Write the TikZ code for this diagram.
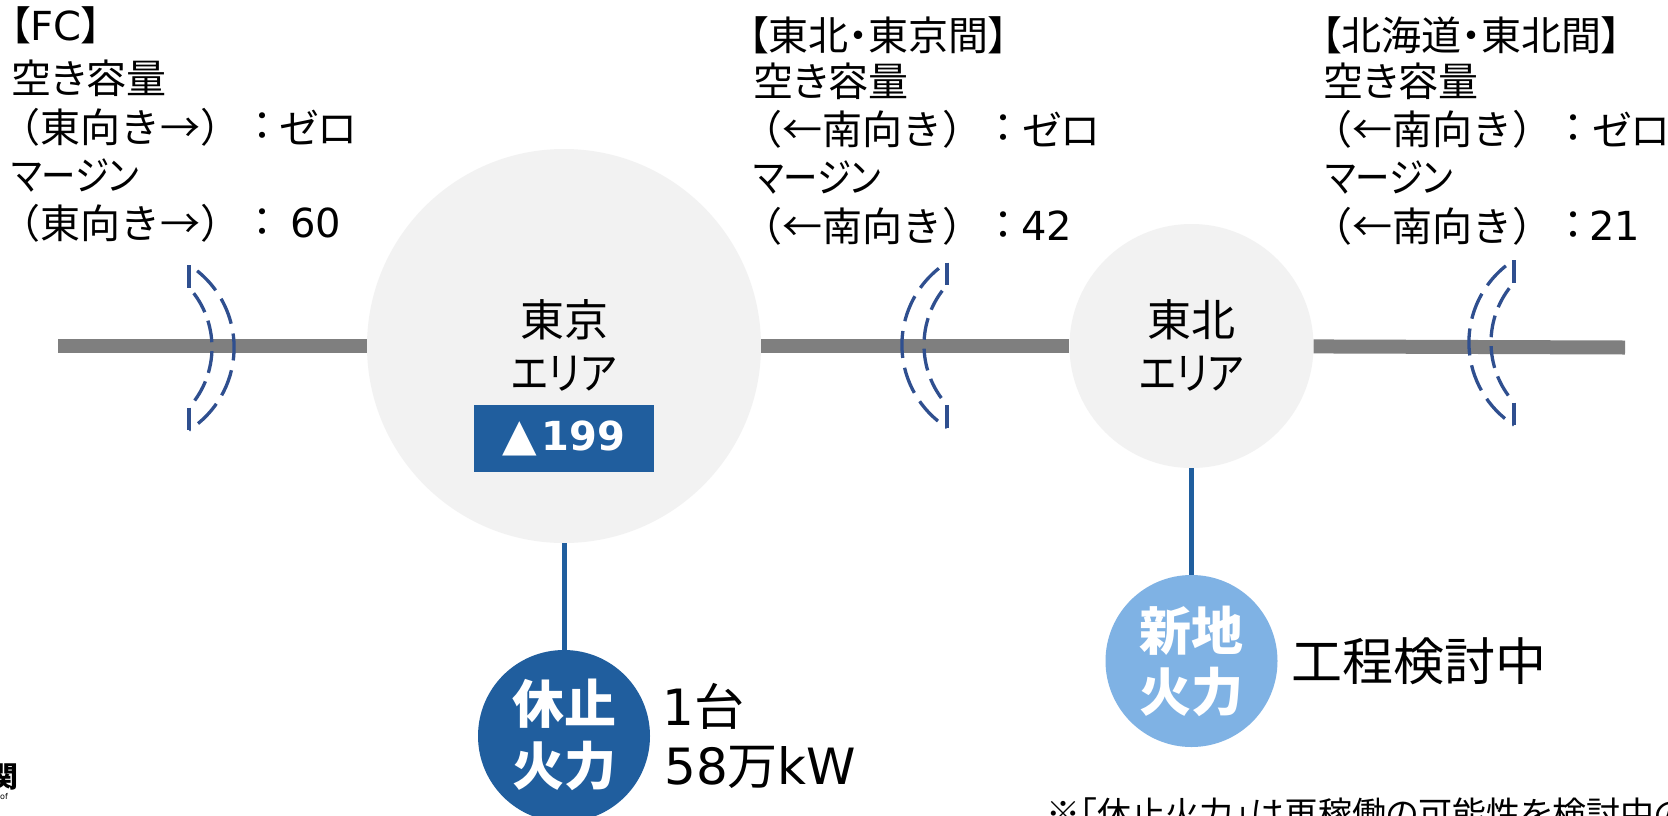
\documentclass[tikz,border=0pt]{standalone}
\usepackage{fontspec}
\setmainfont{DejaVu Sans}
\newfontfamily\jp[RawFeature=+palt]{Noto Sans CJK JP}
\newfontfamily\jpw{Noto Sans CJK JP}
\newfontfamily\lat{DejaVu Sans}
\definecolor{linegray}{RGB}{127,127,127}
\definecolor{areagray}{RGB}{242,242,242}
\definecolor{dblue}{RGB}{32,94,158}
\definecolor{lblue}{RGB}{127,178,228}
\definecolor{cresblue}{RGB}{47,79,143}
\begin{document}
\begin{tikzpicture}[x=1pt,y=-1pt,
  link/.style={draw=linegray,line width=14pt},
  drop/.style={draw=dblue,line width=5pt},
  area/.style={circle,fill=areagray,inner sep=0pt,minimum size=#1},
  plant/.style={circle,inner sep=0pt,minimum size=172pt},
  cres/.style={draw=cresblue,line width=3.3pt},
  side/.style={anchor=west,inner sep=0pt,font=\jp\fontsize{40}{48}\selectfont},
  paren/.style={anchor=west,inner sep=0pt,font=\jpw\fontsize{40}{48}\selectfont},
  colon/.style={anchor=center,inner sep=0pt,font=\jp\fontsize{40}{48}\selectfont},
  val/.style={anchor=west,inner sep=0pt,font=\jp\fontsize{40}{48}\selectfont},
  lbl/.style={anchor=center,inner sep=0pt,font=\jp\fontsize{44}{50}\selectfont},
  plantlbl/.style={anchor=center,inner sep=0pt,text=white,font=\jp\bfseries\fontsize{52}{60}\selectfont}
]
\fill[white] (0,0) rectangle (1668,815);
\useasboundingbox (0,0) rectangle (1668,815);

% areas and tie lines
\coordinate (lend) at (58,346);
\coordinate (rend) at (1625,347.5);
\node[area=394pt] (tokyo) at (564,346) {};
\node[area=244pt] (tohoku) at (1191.5,346) {};
\draw[link] (lend) -- (tokyo);
\draw[link] (tokyo) -- (tohoku);
\draw[link] (tohoku) -- (rend);

% crescents (dashed arcs with solid end ticks)
\foreach \cx/\cy/\s in {189/347.5/1, 947/345/-1, 1514/342.5/-1} {
  \begin{scope}[shift={(\cx,\cy)}, xscale=\s]
    \draw[cres] (0,-82.5) -- (0,-60);
    \draw[cres] (0,60) -- (0,82.5);
    \draw[cres, dash pattern=on 27pt off 10pt, dash phase=27pt]
      (0,-82.5) arc[start angle=-57.3,end angle=57.3,radius=98.1];
    \draw[cres, dash pattern=on 22pt off 9pt, dash phase=22pt]
      (0,60) arc[start angle=41.95,end angle=-41.95,radius=89.76];
  \end{scope}
}

% area labels
\node[lbl] (tokyoname) at (564,320) {東京};
\node[lbl] (tokyoarea) at (564,374) {\scalebox{0.88}[1]{エリア}};
\node[lbl] (tohokuname) at (1191.5,320) {東北};
\node[lbl] (tohokuarea) at (1191.5,374) {\scalebox{0.88}[1]{エリア}};
\node[fill=dblue,minimum width=180pt,minimum height=67pt,inner sep=0pt,text=white,
      font=\bfseries\fontsize{40}{40}\selectfont] (deficit) at (564,438.5)
      {{\mdseries\fontsize{45}{45}\selectfont ▲}\kern4pt 199};

% plants
\node[plant,fill=dblue] (kyushi) at (564,736) {};
\node[plant,fill=lblue] (shinchi) at (1191.5,661) {};
\draw[drop] (tokyo) -- (kyushi);
\draw[drop] (tohoku) -- (shinchi);
\node[plantlbl] (kyushi1) at (564,704) {休止};
\node[plantlbl] (kyushi2) at (564,766) {火力};
\node[plantlbl] (shinchi1) at (1191.5,631) {新地};
\node[plantlbl] (shinchi2) at (1191.5,692) {火力};
\node[anchor=west,inner sep=0pt,font=\fontsize{50}{56}\selectfont] (units) at (662,706) {1{\jp 台}};
\node[anchor=west,inner sep=0pt,font=\fontsize{50}{56}\selectfont] (capacity) at (664,767) {58{\jp 万}kW};
\node[anchor=west,inner sep=0pt,font=\jp\fontsize{51}{60}\selectfont] (schedule) at (1291,661) {工程検討中};

% FC block
\node[side] (fc1) at (10,25) {【{\lat FC}】};
\node[side] (fc2) at (11,78) {空き容量};
\node[paren] (fc3) at (0,127) {（東向き→）};
\node[colon] (fc3c) at (262,127) {：};
\node[val] (fc3v) at (279,127) {ゼロ};
\node[side] (fc4) at (11,176) {\scalebox{0.86}[1]{マージン}};
\node[paren] (fc5) at (0,223) {（東向き→）};
\node[colon] (fc5c) at (262,223) {：};
\node[val] (fc5v) at (290,223) {\lat 60};

% Tohoku-Tokyo block
\node[side] (tt1) at (748,35) {【東北・東京間】};
\node[side] (tt2) at (753,81) {空き容量};
\node[paren] (tt3) at (742,129) {（←南向き）};
\node[colon] (tt3c) at (1003.5,129) {：};
\node[val] (tt3v) at (1022,129) {ゼロ};
\node[side] (tt4) at (753,178) {\scalebox{0.86}[1]{マージン}};
\node[paren] (tt5) at (742,226) {（←南向き）};
\node[colon] (tt5c) at (1003.5,226) {：};
\node[val] (tt5v) at (1021,226) {\lat 42};

% Hokkaido-Tohoku block
\node[side] (ht1) at (1321,35) {【北海道・東北間】};
\node[side] (ht2) at (1323,81) {空き容量};
\node[paren] (ht3) at (1312,129) {（←南向き）};
\node[colon] (ht3c) at (1573.5,129) {：};
\node[val] (ht3v) at (1592,129) {ゼロ};
\node[side] (ht4) at (1325,178) {\scalebox{0.86}[1]{マージン}};
\node[paren] (ht5) at (1312,226) {（←南向き）};
\node[colon] (ht5c) at (1573.5,226) {：};
\node[val] (ht5v) at (1589,226) {\lat 21};

% note and cropped logo
\node[anchor=west,inner sep=0pt,font=\jp\fontsize{34}{40}\selectfont] (note) at (1046,814) {※「休止火力」は再稼働の可能性を検討中の};
\node[anchor=east,inner sep=0pt,font=\jp\bfseries\fontsize{29}{30}\selectfont] (logo) at (19,777) {関};
\node[anchor=west,inner sep=0pt,font=\fontsize{8}{9}\selectfont] (logoen) at (0,797) {of};
\end{tikzpicture}
\end{document}
